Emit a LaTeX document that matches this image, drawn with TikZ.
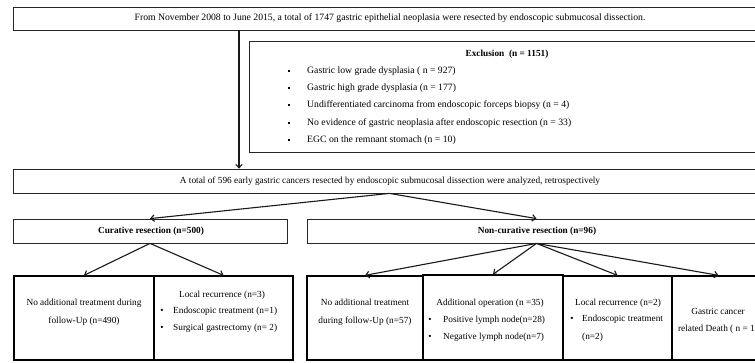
\documentclass[tikz,border=0pt]{standalone}
\usepackage{fontspec}
\setmainfont{Liberation Serif}
\usetikzlibrary{arrows.meta}
\begin{document}
\begin{tikzpicture}[x=1pt,y=-1pt,
  frame/.style={draw=black!85, line width=0.8pt, inner sep=0pt, rectangle},
  cell/.style={draw=black, line width=1.3pt, inner sep=0pt, rectangle},
  txt/.style={inner sep=0pt, font=\fontsize{9.3}{11}\selectfont},
  ltxt/.style={inner sep=0pt, font=\fontsize{9.7}{11}\selectfont},
  btxt/.style={txt, font=\fontsize{9.3}{11}\selectfont\bfseries},
  sqb/.style={fill=black, inner sep=0pt, minimum size=2.3pt, rectangle},
  arr/.style={draw=black!90, line width=1.1pt, -{Straight Barb[length=3.5pt,width=6.5pt]}}]
\useasboundingbox (0,0) rectangle (755,362);
\clip (0,0) rectangle (755,362);
% top box
\node[frame, minimum width=753pt, minimum height=23pt] (top) at (389.5,18.5) {};
\node[ltxt, anchor=mid] (toptxt) at (390,18) {From November 2008 to June 2015, a total of 1747 gastric epithelial neoplasia were resected by endoscopic submucosal dissection.};
% exclusion box
\node[frame, minimum width=517pt, minimum height=111pt] (excl) at (507.5,96.5) {};
\node[btxt, anchor=mid] (extitle) at (507,54) {Exclusion\ \ (n = 1151)};
\node[sqb] (e1b) at (289,71) {};
\node[ltxt, anchor=mid west] (e1) at (307,71) {Gastric low grade dysplasia ( n = 927)};
\node[sqb] (e2b) at (289,88) {};
\node[ltxt, anchor=mid west] (e2) at (307,88) {Gastric high grade dysplasia (n = 177)};
\node[sqb] (e3b) at (289,105) {};
\node[ltxt, anchor=mid west] (e3) at (307,105) {Undifferentiated carcinoma from endoscopic forceps biopsy (n = 4)};
\node[sqb] (e4b) at (289,123) {};
\node[ltxt, anchor=mid west] (e4) at (307,123) {No evidence of gastric neoplasia after endoscopic resection (n = 33)};
\node[sqb] (e5b) at (289,140) {};
\node[ltxt, anchor=mid west] (e5) at (307,140) {EGC on the remnant stomach (n = 10)};
% total box
\node[frame, minimum width=753pt, minimum height=24pt] (total) at (389.5,181) {};
\node[txt, anchor=mid] (totaltxt) at (390,181) {A total of 596 early gastric cancers resected by endoscopic submucosal dissection were analyzed, retrospectively};
% curative / non-curative
\node[frame, minimum width=274pt, minimum height=24pt] (cur) at (150,231) {};
\node[btxt, anchor=mid] (curtxt) at (151,231) {Curative resection (n=500)};
\node[frame, minimum width=459pt, minimum height=24pt] (non) at (536.5,231) {};
\node[btxt, anchor=mid] (nontxt) at (537,231) {Non-curative resection (n=96)};
% bottom cells
\node[cell, minimum width=140pt, minimum height=84pt] (c1) at (84,318) {};
\node[cell, minimum width=139pt, minimum height=84pt] (c2) at (223.5,318) {};
\node[cell, minimum width=116pt, minimum height=84pt] (c3) at (365,318) {};
\node[cell, minimum width=140pt, minimum height=85pt] (c4) at (493,317.5) {};
\node[cell, minimum width=109pt, minimum height=84pt] (c5) at (617.5,318) {};
\node[cell, minimum width=93pt, minimum height=84pt] (c6) at (718.5,318) {};
% cell texts
\node[txt, anchor=mid] (c1a) at (84,303) {No additional treatment during};
\node[txt, anchor=mid] (c1b) at (84,321) {follow-Up (n=490)};
\node[txt, anchor=mid] (c2a) at (222,295) {Local recurrence (n=3)};
\node[txt, anchor=mid] (c2bb) at (162,311) {\textbullet};
\node[txt, anchor=mid west] (c2b) at (173,311) {Endoscopic treatment (n=1)};
\node[txt, anchor=mid] (c2cb) at (162,328) {\textbullet};
\node[txt, anchor=mid west] (c2c) at (173,328) {Surgical gastrectomy (n= 2)};
\node[txt, anchor=mid] (c3a) at (365,303) {No additional treatment};
\node[txt, anchor=mid] (c3b) at (365,321) {during follow-Up (n=57)};
\node[txt, anchor=mid] (c4a) at (490,303) {Additional operation (n =35)};
\node[txt, anchor=mid] (c4bb) at (430,320) {\textbullet};
\node[txt, anchor=mid west] (c4b) at (443,320) {Positive lymph node(n=28)};
\node[txt, anchor=mid] (c4cb) at (430,337) {\textbullet};
\node[txt, anchor=mid west] (c4c) at (443,337) {Negative lymph node(n=7)};
\node[txt, anchor=mid] (c5a) at (618,303) {Local recurrence (n=2)};
\node[txt, anchor=mid] (c5bb) at (572,319) {\textbullet};
\node[txt, anchor=mid west] (c5b) at (582,319) {Endoscopic treatment};
\node[txt, anchor=mid west] (c5c) at (582,337) {(n=2)};
\node[txt, anchor=mid] (c6a) at (718,312) {Gastric cancer};
\node[txt, anchor=mid] (c6b) at (718,329) {related Death ( n = 1)};
% connectors
\coordinate (vx) at (239,0);
\draw[arr] (top.south -| vx) -- (total.north -| vx);
\draw[arr] (total.south) -- (cur.north);
\draw[arr] (total.south) -- (non.north);
\draw[arr] (cur.south) -- (c1.north);
\draw[arr] (cur.south) -- (c2.north);
\draw[arr] (non.south) -- (c3.north);
\draw[arr] (non.south) -- (c4.north);
\draw[arr] (non.south) -- (c5.north);
\draw[arr] (non.south) -- (c6.north);
\end{tikzpicture}
\end{document}
